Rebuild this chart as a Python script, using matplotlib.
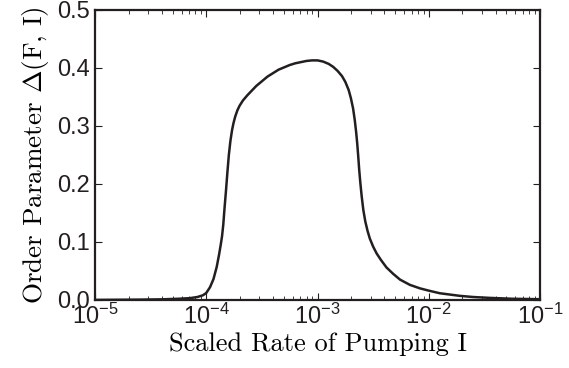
import numpy as np
import matplotlib
matplotlib.use('Agg')
import matplotlib.pyplot as plt
from matplotlib.ticker import LogLocator, NullFormatter, MultipleLocator

# values: log10 of pumping rate and order parameter
log_rate = [-5.0, -4.6, -4.4, -4.25, -4.15, -4.08, -4.03, -4.0, -3.966, -3.935,
            -3.906, -3.885, -3.87, -3.858, -3.847, -3.835, -3.822, -3.81, -3.797, -3.783,
            -3.768, -3.755, -3.74, -3.72, -3.70, -3.67, -3.63, -3.59, -3.55, -3.50,
            -3.45, -3.40, -3.35, -3.30, -3.25, -3.20, -3.15, -3.10, -3.05, -3.00,
            -2.95, -2.90, -2.86, -2.82, -2.78, -2.75, -2.72, -2.70, -2.68, -2.665,
            -2.653, -2.643, -2.634, -2.625, -2.615, -2.603, -2.588, -2.57, -2.55, -2.53,
            -2.50, -2.468, -2.43, -2.38, -2.32, -2.258, -2.17, -2.08, -2.00, -1.90,
            -1.80, -1.72, -1.60, -1.45, -1.25, -1.00]
order_param = [0.0, 0.0005, 0.001, 0.002, 0.003, 0.005, 0.008, 0.012, 0.022, 0.036,
               0.057, 0.078, 0.095, 0.11, 0.13, 0.16, 0.19, 0.22, 0.25, 0.274,
               0.293, 0.305, 0.316, 0.327, 0.335, 0.344, 0.353, 0.361, 0.369, 0.377,
               0.385, 0.391, 0.397, 0.401, 0.405, 0.408, 0.410, 0.412, 0.413, 0.413,
               0.411, 0.407, 0.402, 0.395, 0.386, 0.376, 0.362, 0.348, 0.330, 0.310,
               0.290, 0.270, 0.248, 0.224, 0.202, 0.179, 0.155, 0.135, 0.119, 0.106,
               0.092, 0.080, 0.069, 0.056, 0.045, 0.035, 0.026, 0.020, 0.016, 0.0115,
               0.009, 0.007, 0.005, 0.0035, 0.002, 0.0012]

plt.rcParams['font.family'] = 'Liberation Sans'
plt.rcParams['mathtext.fontset'] = 'cm'

rate = 10.0 ** np.array(log_rate)

fig = plt.figure(figsize=(5.69, 3.68), dpi=100)
ax = fig.add_axes([0.167, 0.185, 0.782, 0.788])
ax.plot(rate, order_param, color='#231f20', lw=1.8, solid_joinstyle='round')

ax.set_xscale('log')
ax.set_xlim(1e-5, 1e-1)
ax.set_ylim(0, 0.5)
ax.xaxis.set_major_locator(LogLocator(base=10, numticks=10))
ax.xaxis.set_minor_locator(LogLocator(base=10, subs=np.arange(2, 10), numticks=10))
ax.xaxis.set_minor_formatter(NullFormatter())
ax.yaxis.set_major_locator(MultipleLocator(0.1))
ax.yaxis.set_major_formatter(plt.FormatStrFormatter('%.1f'))

ax.tick_params(which='both', direction='in', top=True, right=True, labelsize=17, colors='#231f20')
ax.tick_params(axis='x', which='major', pad=3)
ax.tick_params(axis='y', which='major', pad=4)
ax.tick_params(which='major', length=5, width=0.8)
ax.tick_params(which='minor', length=3, width=0.6)
for s in ax.spines.values():
    s.set_linewidth(1.6)
    s.set_color('#231f20')

serif = ['cmr10', 'DejaVu Serif']
ax.set_xlabel('Scaled Rate of Pumping I', fontsize=19, family=serif, labelpad=2)
ax.set_ylabel(r'Order Parameter $\Delta(\mathrm{F},\,\mathrm{I})$', fontsize=19.5, family=serif, labelpad=4)

fig.savefig('out.png', dpi=100)
